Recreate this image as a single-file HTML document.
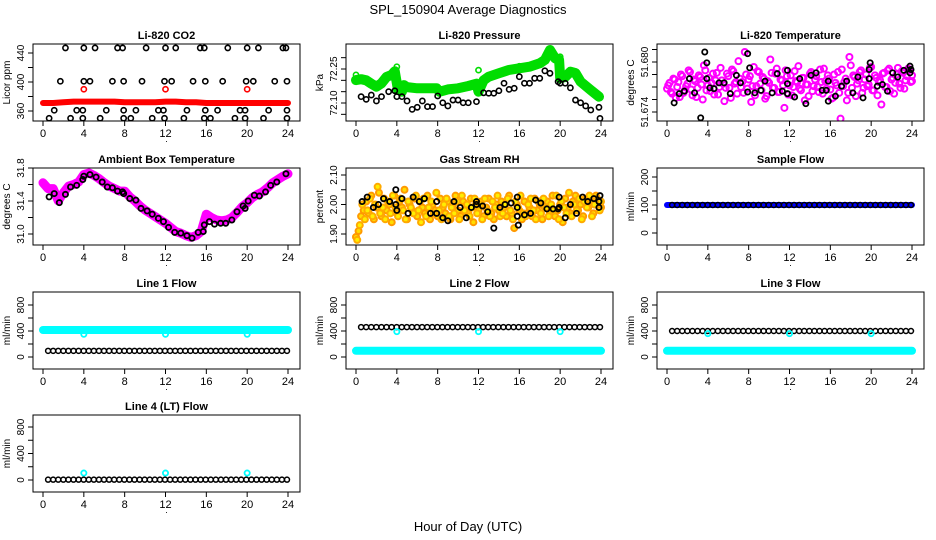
<!DOCTYPE html>
<html><head><meta charset="utf-8"><style>
html,body{margin:0;padding:0;background:#fff}
svg{display:block}
text{font-family:"Liberation Sans",sans-serif;fill:#000}
</style></head><body>
<svg id="chart" width="936" height="540" viewBox="0 0 936 540" xmlns="http://www.w3.org/2000/svg">
<text x="468" y="14" text-anchor="middle" font-size="13">SPL_150904  Average Diagnostics</text>
<text x="468" y="531" text-anchor="middle" font-size="13">Hour of Day (UTC)</text>
</svg>
<script>
// ---------- data ----------
const hourTicks = [0,4,8,12,16,20,24];

// CO2
const co2BlackHours = [2.2,4,5.1,7.3,7.8,10.1,12,13,15.4,15.8,18.1,20,21.1,23.5,23.8,
 1.7,4,4.6,6.8,7.9,9.7,11.9,12.6,14.7,15.9,17.6,19.9,20.6,22.7,23.9,
 1.1,3.3,3.9,6.2,7.9,9.1,11.3,11.8,14.1,15.9,17.1,19.3,19.8,22.1,23.9,
 0.6,2.7,3.9,5.6,7.9,8.6,10.7,11.9,13.8,15.8,16.4,18.8,19.8,21.6,23.9];
const co2BlackValues = [447,447,447,447,447,447,447,447,447,447,447,447,447,447,447,
 401,401,401,401,401,401,401,401,401,401,401,401,401,401,401,
 361,361,361,361,361,361,361,361,361,361,361,361,361,361,361,
 350,350,350,350,350,350,350,350,350,350,350,350,350,350,350];
const co2RedBand = [371,371,372,373,373,373,373,373,372,372,372,372,373,373,372,372,371,371,371,371,371,371,371,371,371];
const co2RedOutHours = [4,12,20];
const co2RedOutValues = [390,390,390];

// Pressure
const presGreenHours = [0,0.5,1,1.5,2,2.5,3,3.5,3.8,4.1,4.5,4.7,5,6,7,7.9,8.2,9,10,11,11.8,12.0,12.5,13,14,15,16,17,18,18.5,19,19.5,19.9,20.0,20.5,21,21.5,22,23,23.8];
const presGreenValues = [72.201,72.205,72.200,72.185,72.172,72.187,72.215,72.224,72.240,72.160,72.150,72.179,72.170,72.165,72.165,72.165,72.150,72.160,72.165,72.175,72.185,72.150,72.200,72.216,72.231,72.246,72.253,72.260,72.275,72.290,72.334,72.297,72.290,72.209,72.215,72.238,72.232,72.194,72.157,72.128];
const presGreenOutHours = [0,4,12,16,20];
const presGreenOutValues = [72.224,72.260,72.245,72.262,72.304];
const presBlackHours = [0.5,1,1.5,2,2.5,3.2,3.8,4,4.5,5,5.5,6,6.5,7,7.5,8,8.5,9,9.5,10,10.5,11,11.8,12.5,13,13.5,14,14.5,15,15.5,16,16.5,17,17.5,18,18.5,19,19.8,20,20.5,21,21.5,22,22.5,23,23.8,23.9];
const presBlackValues = [72.128,72.116,72.135,72.109,72.128,72.150,72.154,72.128,72.128,72.109,72.072,72.081,72.109,72.084,72.084,72.131,72.101,72.087,72.113,72.113,72.101,72.101,72.106,72.145,72.143,72.143,72.154,72.187,72.160,72.165,72.216,72.187,72.187,72.209,72.209,72.242,72.231,72.194,72.187,72.187,72.167,72.113,72.101,72.087,72.069,72.081,72.032];

// Li-820 temperature
const tempMagValues = [51.6768,51.6775,51.6762,51.6779,51.6770,51.6758,51.6783,51.6766,51.6774,51.6788,51.6760,51.6777,51.6769,51.6782,51.6755,51.6790,51.6772,51.6765,51.6786,51.6778,51.6761,51.6793,51.6774,51.6769,51.6783,51.6757,51.6789,51.6776,51.6801,51.6770,51.6763,51.6785,51.6779,51.6752,51.6794,51.6771,51.6788,51.6766,51.6780,51.6759,51.6775,51.6787,51.6769,51.6792,51.6764,51.6778,51.6745,51.6783,51.6772,51.6760,51.6789,51.6776,51.6768,51.6781,51.6754,51.6773,51.6786,51.6765,51.6779,51.6770,51.6791,51.6762,51.6777,51.6784,51.6767,51.6757,51.6775,51.6788,51.6732,51.6771,51.6780,51.6763,51.6796,51.6784,51.6759,51.6778,51.6790,51.6769,51.6785,51.6773,51.6794,51.6766,51.6781,51.6776,51.6749,51.6787,51.6770,51.6792,51.6779,51.6762,51.6785,51.6774,51.6789,51.6768,51.6783,51.6791,51.6777];
const tempMagValues2 = [51.6772,51.6764,51.6780,51.6757,51.6776,51.6785,51.6763,51.6771,51.6790,51.6767,51.6779,51.6758,51.6784,51.6773,51.6796,51.6766,51.6781,51.6775,51.6761,51.6787,51.6770,51.6778,51.6753,51.6786,51.6769,51.6791,51.6774,51.6762,51.6780,51.6776,51.6812,51.6768,51.6783,51.6771,51.6760,51.6789,51.6774,51.6782,51.6756,51.6777,51.6803,51.6769,51.6786,51.6764,51.6779,51.6772,51.6790,51.6761,51.6784,51.6770,51.6777,51.6795,51.6766,51.6781,51.6773,51.6759,51.6788,51.6771,51.6783,51.6764,51.6776,51.6792,51.6768,51.6780,51.6756,51.6785,51.6772,51.6763,51.6791,51.6776,51.6754,51.6806,51.6769,51.6782,51.6774,51.6788,51.6763,51.6779,51.6771,51.6793,51.6766,51.6784,51.6760,51.6778,51.6786,51.6770,51.6790,51.6765,51.6781,51.6775,51.6793,51.6769,51.6787,51.6778,51.6792,51.6776,51.6784];
const tempBlackHours = [0.7,1.2,1.7,2.2,2.7,3.3,3.7,3.9,3.9,4.2,4.6,5.1,5.6,6.2,6.8,7.2,7.9,7.9,8.1,8.6,9.2,9.6,10.3,10.8,11.3,11.8,11.8,11.8,12.5,13,13.6,14.1,14.6,15.2,15.6,15.8,15.8,16.5,17.1,17.6,18.2,18.7,19.2,19.8,19.8,19.9,20.6,21.1,21.6,22.1,22.6,23.2,23.8,23.8,23.9];
const tempBlackValues = [51.6751,51.6762,51.6765,51.6780,51.6763,51.6733,51.6812,51.6780,51.6799,51.6769,51.6768,51.6775,51.6775,51.6762,51.6784,51.6775,51.6764,51.6810,51.6793,51.6763,51.6766,51.6777,51.6763,51.6786,51.6765,51.6790,51.6774,51.6762,51.6758,51.6780,51.6750,51.6784,51.6787,51.6766,51.6766,51.6777,51.6753,51.6759,51.6771,51.6777,51.6763,51.6782,51.6757,51.6780,51.6791,51.6799,51.6771,51.6773,51.6765,51.6787,51.6782,51.6790,51.6795,51.6787,51.6791];

// Ambient box temperature
const ambMagValues = [31.62,31.55,31.55,31.40,31.50,31.58,31.60,31.63,31.72,31.74,31.71,31.67,31.62,31.58,31.55,31.52,31.52,31.45,31.40,31.34,31.29,31.25,31.21,31.17,31.13,31.08,31.03,31.01,30.98,30.96,30.98,31.03,31.24,31.20,31.17,31.16,31.17,31.20,31.26,31.33,31.38,31.44,31.48,31.51,31.56,31.62,31.66,31.70,31.73];
const ambBlackHours = [0.6,1.1,1.6,2.2,2.7,3.3,3.9,4.0,4.6,5.2,5.8,6.3,6.8,7.3,7.8,7.9,8.5,9.1,9.6,10.2,10.7,11.3,11.8,12.3,12.9,13.5,14.1,14.6,15.2,15.7,15.8,16.3,16.8,17.4,17.9,18.5,19.0,19.6,19.8,20.1,20.7,21.2,21.8,22.3,22.9,23.8];
const ambBlackValues = [31.45,31.49,31.38,31.48,31.57,31.59,31.66,31.70,31.72,31.69,31.63,31.57,31.56,31.52,31.51,31.49,31.43,31.41,31.31,31.28,31.24,31.19,31.15,31.08,31.02,31.01,30.98,30.95,31.02,31.03,31.11,31.15,31.12,31.13,31.13,31.17,31.27,31.34,31.31,31.40,31.47,31.46,31.51,31.59,31.63,31.73];

// Gas stream RH
const rhOrangeValues = [1.89,1.91,1.96,1.98,2.01,1.97,2.03,1.95,1.99,2.04,1.96,2.02,1.98,2.00,1.94,2.03,1.97,2.01,1.99,2.05,1.95,2.00,1.98,2.02,1.96,2.01,1.99,1.97,2.03,1.95,2.00,1.98,1.96,2.02,1.99,1.97,2.01,1.95,2.00,2.03,1.98,1.96,2.01,1.99,1.97,2.02,1.94,2.00,1.98,2.01,1.96,1.99,2.02,1.97,1.95,2.00,1.98,2.01,1.99,1.96,2.03,1.97,1.92,2.00,1.98,1.95,2.01,1.97,1.99,1.96,2.02,1.98,2.00,1.95,1.99,2.01,1.97,2.03,1.96,1.98,2.00,1.94,2.02,1.99,1.97,2.01,2.03,1.98,2.00,1.96,2.02,1.99,2.01,1.97,2.03,2.00,1.99];
const rhOrangeValues2 = [1.88,1.93,2.00,1.95,1.98,2.02,1.96,2.00,2.06,1.97,1.99,1.95,2.01,1.97,2.03,1.99,1.96,2.02,1.98,1.95,2.01,1.99,1.97,2.03,1.98,1.94,2.02,1.96,1.99,2.01,1.97,2.04,1.98,1.95,2.00,2.02,1.96,1.99,1.97,2.01,1.95,2.03,1.98,2.00,1.96,1.99,2.02,1.97,2.00,1.95,2.02,1.98,1.96,2.01,1.99,2.03,1.96,1.97,2.00,2.02,1.98,1.95,2.01,1.99,2.03,1.97,1.96,2.00,2.02,1.98,1.95,2.01,1.97,2.02,1.99,1.96,2.00,1.98,2.03,1.95,2.01,1.99,1.97,2.04,1.96,2.00,1.98,2.02,1.95,2.01,1.99,2.03,1.96,2.00,2.02,1.98,2.01];
const rhBlackHours = [0.6,1.1,1.7,2.2,2.7,3.3,3.9,3.9,4.0,4.5,5.1,5.6,6.2,6.7,7.3,7.9,7.9,8.5,9.0,9.6,10.2,10.8,11.3,11.8,11.8,12.4,12.9,13.5,14.1,14.6,15.2,15.8,15.8,15.8,15.9,16.5,17.1,17.6,18.1,18.7,19.3,19.8,19.9,19.9,20.5,21.0,21.6,22.2,22.7,23.3,23.8,23.8,23.9];
const rhBlackValues = [2.01,2.025,1.99,2.0,2.02,2.01,2.05,2.0,1.98,2.02,1.97,2.025,2.01,2.02,1.97,1.97,2.01,1.955,1.945,2.01,1.99,1.955,1.99,2.0,2.01,1.995,1.975,1.92,1.99,2.0,2.005,1.99,2.025,1.96,1.93,1.965,1.97,2.015,2.005,1.985,1.985,1.985,1.99,2.025,1.955,2.0,1.97,2.025,2.01,2.02,2.01,1.99,2.03];

// Flows (half-hour series)
const sampleBlue = [100,100,100,100,100,100,100,100,100,100,100,100,100,100,100,100,100,100,100,100,100,100,100,100,100];
const sampleBlack = [100,100,100,100,100,100,100,100,100,100,100,100,100,100,100,100,100,100,100,100,100,100,100,100,100,100,100,100,100,100,100,100,100,100,100,100,100,100,100,100,100,100,100,100,100,100,100,100];
const line1Cyan = [415,415,415,415,415,415,415,415,415,415,415,415,415,415,415,415,415,415,415,415,415,415,415,415,415];
const line1Black = [95,95,95,95,95,95,95,95,95,95,95,95,95,95,95,95,95,95,95,95,95,95,95,95,95,95,95,95,95,95,95,95,95,95,95,95,95,95,95,95,95,95,95,95,95,95,95,95];
const line1CyanOut = [350,350,350];
const line2Cyan = [95,95,95,95,95,95,95,95,95,95,95,95,95,95,95,95,95,95,95,95,95,95,95,95,95];
const line2Black = [460,460,460,460,460,460,460,460,460,460,460,460,460,460,460,460,460,460,460,460,460,460,460,460,460,460,460,460,460,460,460,460,460,460,460,460,460,460,460,460,460,460,460,460,460,460,460,460];
const line2CyanOut = [390,390,390];
const line3Cyan = [95,95,95,95,95,95,95,95,95,95,95,95,95,95,95,95,95,95,95,95,95,95,95,95,95];
const line3Black = [400,400,400,400,400,400,400,400,400,400,400,400,400,400,400,400,400,400,400,400,400,400,400,400,400,400,400,400,400,400,400,400,400,400,400,400,400,400,400,400,400,400,400,400,400,400,400,400];
const line3CyanOut = [360,360,360];
const line4Black = [5,5,5,5,5,5,5,5,5,5,5,5,5,5,5,5,5,5,5,5,5,5,5,5,5,5,5,5,5,5,5,5,5,5,5,5,5,5,5,5,5,5,5,5,5,5,5,5];
const line4CyanOut = [105,105,105];
const outlierHours = [4,12,20];

// ---------- drawing ----------
const NS = "http://www.w3.org/2000/svg";
const svg = document.getElementById('chart');
function mk(tag, attrs, parent){
  const e = document.createElementNS(NS, tag);
  for (const k in attrs) e.setAttribute(k, attrs[k]);
  (parent||svg).appendChild(e);
  return e;
}
const colLeft = [33,346,657], rowTop = [44,168,292,415], BW = 267, BH = 77;

function panel(name, title, col, row, yv1, yp1, yv2, yp2, yticks, ylabels, ylab){
  const L = colLeft[col], T = rowTop[row], B = T + BH;
  const g = mk('g', {});
  
  
  const x = h => L + 10 + h/24*245;
  const y = v => yp1 + (v - yv1)/(yv2 - yv1)*(yp2 - yp1);
  const clip = mk('clipPath', {id: 'clip-' + name}, g);
  mk('rect', {x: L, y: T, width: BW, height: BH}, clip);
  const t = mk('text', {x: L + BW/2, y: T - 5, 'text-anchor': 'middle', 'font-size': 11, 'font-weight': 'bold'}, g);
  t.textContent = title;
  
  
  hourTicks.forEach(h => {
    mk('line', {x1: x(h), x2: x(h), y1: B, y2: B + 5, stroke: '#000'}, g);
    const tl = mk('text', {x: x(h), y: B + 16, 'text-anchor': 'middle', 'font-size': 11}, g);
    tl.textContent = h;
    
    
  });
  const dot = mk('text', {x: L + BW/2, y: B + 21, 'text-anchor': 'middle', 'font-size': 9}, g);
  dot.textContent = '.';
  yticks.forEach((v, i) => {
    const py = y(v);
    if (py < T - 1 || py > B + 1) return;
    mk('line', {x1: L - 5, x2: L, y1: py, y2: py, stroke: '#000'}, g);
    if (ylabels[i]) {
      const yl = mk('text', {x: L - 9, y: py, 'text-anchor': 'middle', 'font-size': 10, transform: `rotate(-90 ${L-9} ${py})`}, g);
      yl.textContent = ylabels[i];
      
      
    }
  });
  const ya = mk('text', {x: L - 23, y: T + BH/2, 'text-anchor': 'middle', 'font-size': 10, transform: `rotate(-90 ${L-23} ${T+BH/2})`}, g);
  ya.textContent = ylab;
  
  
  const plot = mk('g', {'clip-path': `url(#clip-${name})`}, g);
  const box = mk('rect', {x: L, y: T, width: BW, height: BH, fill: 'none', stroke: '#000', 'stroke-width': 1}, g);
  
  
  return {x, y, plot};
}
function pts(P, hours, vals, color, r, sw, fill, sname){
  const n = Math.min(hours.length, vals.length);
  for (let i = 0; i < n; i++){
    const c = mk('circle', {cx: P.x(hours[i]), cy: P.y(vals[i]), r: r, fill: fill || 'none', stroke: color, 'stroke-width': sw}, P.plot);
    
    
  }
}
function evenHours(n){ const a=[]; for(let i=0;i<n;i++) a.push(i*24/(n-1)); return a; }
function offHours(n){ const a=[]; for(let i=0;i<n;i++) a.push(0.5 + i*23.4/(n-1)); return a; }
function band(P, hours, vals, color, w, sname){
  const d = hours.map((h,i) => (i?'L':'M') + P.x(h).toFixed(1) + ' ' + P.y(vals[i]).toFixed(1)).join(' ');
  const p = mk('path', {d, fill: 'none', stroke: color, 'stroke-width': w, 'stroke-linejoin': 'round', 'stroke-linecap': 'round'}, P.plot);
  
  
}

// CO2
let P = panel('li820-co2', 'Li-820 CO2', 0, 0, 440, 53, 360, 111, [360,380,400,420,440], ['360','','400','','440'], 'Licor ppm');
band(P, evenHours(co2RedBand.length), co2RedBand, '#ff0000', 6, 'co2-red-band');
pts(P, co2RedOutHours, co2RedOutValues, '#ff0000', 2.6, 1.6, null, 'co2-red-point');
pts(P, co2BlackHours, co2BlackValues, '#000', 2.6, 1.6, null, 'co2-black-point');

// Pressure
P = panel('li820-pressure', 'Li-820 Pressure', 1, 0, 72.10, 103, 72.25, 69, [72.05,72.10,72.15,72.20,72.25,72.30], ['','72.10','','','72.25',''], 'kPa');
band(P, presGreenHours, presGreenValues, '#00dd00', 10, 'pressure-green-band');
pts(P, presGreenOutHours, presGreenOutValues, '#00dd00', 2.6, 1.6, null, 'pressure-green-point');
pts(P, presBlackHours, presBlackValues, '#000', 2.6, 1.6, null, 'pressure-black-point');

// Li-820 temperature
P = panel('li820-temperature', 'Li-820 Temperature', 2, 0, 51.674, 112, 51.680, 62, [51.674,51.6755,51.677,51.6785,51.680,51.6815], ['51.674','','','','51.680',''], 'degrees C');
pts(P, evenHours(tempMagValues.length), tempMagValues, '#ff00ff', 3, 2, null, 'temp-magenta-point');
pts(P, evenHours(tempMagValues2.length).map(h=>Math.min(24,h+0.12)), tempMagValues2, '#ff00ff', 3, 2, null, 'temp-magenta-point');
pts(P, tempBlackHours, tempBlackValues, '#000', 2.6, 1.8, null, 'temp-black-point');

// Ambient
P = panel('ambient-box-temperature', 'Ambient Box Temperature', 0, 1, 31.0, 234, 31.8, 168, [31.0,31.2,31.4,31.6,31.8], ['31.0','','31.4','','31.8'], 'degrees C');
band(P, evenHours(ambMagValues.length), ambMagValues, '#ff00ff', 9, 'ambient-magenta-band');
pts(P, ambBlackHours, ambBlackValues, '#000', 2.6, 1.8, null, 'ambient-black-point');

// RH
P = panel('gas-stream-rh', 'Gas Stream RH', 1, 1, 2.10, 175, 1.90, 234, [1.90,1.95,2.00,2.05,2.10], ['1.90','','2.00','','2.10'], 'percent');
pts(P, evenHours(rhOrangeValues.length), rhOrangeValues, '#ff9900', 3, 2, '#ffdd00', 'rh-orange-point');
pts(P, evenHours(rhOrangeValues2.length).map(h=>Math.min(24,h+0.12)), rhOrangeValues2, '#ffaa00', 3, 2, '#ffee00', 'rh-orange-point');
pts(P, rhBlackHours, rhBlackValues, '#000', 2.6, 1.8, null, 'rh-black-point');

// Sample flow
P = panel('sample-flow', 'Sample Flow', 2, 1, 0, 233, 200, 177, [0,50,100,150,200], ['0','','100','','200'], 'ml/min');
band(P, evenHours(sampleBlue.length), sampleBlue, '#0000ff', 6, 'sample-blue-band');
pts(P, offHours(sampleBlack.length), sampleBlack, '#000', 2.5, 1.5, null, 'sample-black-point');

// Line flows
const flowTicks = [0,200,400,600,800], flowLabels = ['0','','400','','800'];
P = panel('line-1-flow', 'Line 1 Flow', 0, 2, 0, 357, 800, 305, flowTicks, flowLabels, 'ml/min');
band(P, evenHours(line1Cyan.length), line1Cyan, '#00ffff', 8, 'line1-cyan-band');
pts(P, offHours(line1Black.length), line1Black, '#000', 2.5, 1.5, null, 'line1-black-point');
pts(P, outlierHours, line1CyanOut, '#00ffff', 2.6, 1.8, null, 'line1-cyan-outlier');

P = panel('line-2-flow', 'Line 2 Flow', 1, 2, 0, 357, 800, 305, flowTicks, flowLabels, 'ml/min');
band(P, evenHours(line2Cyan.length), line2Cyan, '#00ffff', 8, 'line2-cyan-band');
pts(P, offHours(line2Black.length), line2Black, '#000', 2.5, 1.5, null, 'line2-black-point');
pts(P, outlierHours, line2CyanOut, '#00ffff', 2.6, 1.8, null, 'line2-cyan-outlier');

P = panel('line-3-flow', 'Line 3 Flow', 2, 2, 0, 357, 800, 305, flowTicks, flowLabels, 'ml/min');
band(P, evenHours(line3Cyan.length), line3Cyan, '#00ffff', 8, 'line3-cyan-band');
pts(P, offHours(line3Black.length), line3Black, '#000', 2.5, 1.5, null, 'line3-black-point');
pts(P, outlierHours, line3CyanOut, '#00ffff', 2.6, 1.8, null, 'line3-cyan-outlier');

P = panel('line-4-flow', 'Line 4 (LT) Flow', 0, 3, 0, 480, 800, 427, flowTicks, flowLabels, 'ml/min');
pts(P, offHours(line4Black.length), line4Black, '#000', 2.5, 1.5, null, 'line4-black-point');
pts(P, outlierHours, line4CyanOut, '#00ffff', 2.6, 1.8, null, 'line4-cyan-outlier');
</script>
</body></html>
